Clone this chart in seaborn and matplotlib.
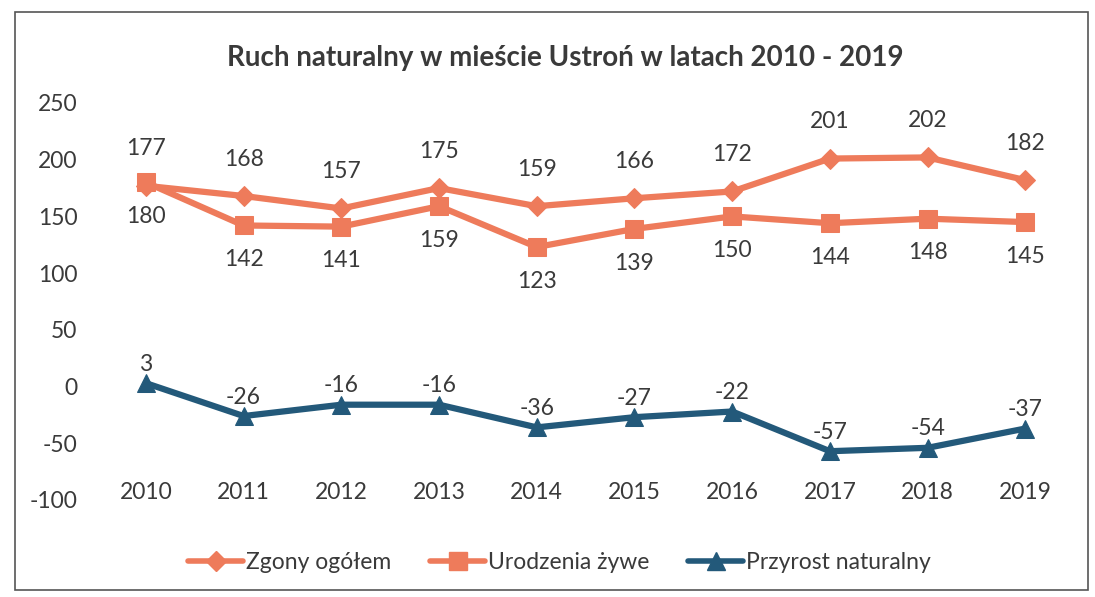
import matplotlib
matplotlib.use("Agg")
import matplotlib.pyplot as plt
import seaborn as sns
import pandas as pd
from matplotlib.patches import Rectangle
from matplotlib.lines import Line2D

years = ["2010", "2011", "2012", "2013", "2014", "2015", "2016", "2017", "2018", "2019"]
zgony = [177, 168, 157, 175, 159, 166, 172, 201, 202, 182]
urodzenia = [180, 142, 141, 159, 123, 139, 150, 144, 148, 145]
przyrost = [3, -26, -16, -16, -36, -27, -22, -57, -54, -37]
series_names = ["Zgony ogółem", "Urodzenia żywe", "Przyrost naturalny"]
yticks = [-100, -50, 0, 50, 100, 150, 200, 250]

sns.set_theme(style="white")
plt.rcParams["font.family"] = ["Lato", "DejaVu Sans"]

ORANGE = "#EE7B5B"
BLUE = "#23597A"
TXT = "#3A3A3A"
FS = 16.5

fig = plt.figure(figsize=(10.95, 5.97), dpi=100)
ax = fig.add_axes([0.0886, 0.1625, 0.8924, 0.665])

idx = list(range(len(years)))
df = pd.DataFrame({"idx": idx, "z": zgony, "u": urodzenia, "p": przyrost})

sns.lineplot(data=df, x="idx", y="z", ax=ax, color=ORANGE, lw=4.5,
             marker="D", markersize=10, markeredgecolor=ORANGE, sort=False)
sns.lineplot(data=df, x="idx", y="u", ax=ax, color=ORANGE, lw=4.5,
             marker="s", markersize=13, markeredgecolor=ORANGE, sort=False)
sns.lineplot(data=df, x="idx", y="p", ax=ax, color=BLUE, lw=4.5,
             marker="^", markersize=13, markeredgecolor=BLUE, sort=False)

for i in idx:
    ax.annotate(str(zgony[i]), (i, zgony[i]), xytext=(0, 19), textcoords="offset points",
                ha="center", va="bottom", fontsize=FS, color=TXT)
    ax.annotate(str(urodzenia[i]), (i, urodzenia[i]), xytext=(0, -17), textcoords="offset points",
                ha="center", va="top", fontsize=FS, color=TXT)
    ax.annotate(str(przyrost[i]), (i, przyrost[i]), xytext=(0, 6), textcoords="offset points",
                ha="center", va="bottom", fontsize=FS, color=TXT)

ax.set_xlim(-0.5, len(years) - 0.5)
ax.set_ylim(-100, 250)
ax.set_yticks(yticks)
ax.set_yticklabels([str(v) for v in yticks], fontsize=FS, color=TXT)
ax.set_xticks(idx)
ax.set_xticklabels(years, fontsize=FS, color=TXT)
ax.tick_params(axis="x", length=0, pad=-13)
ax.tick_params(axis="y", length=0, pad=14)
ax.set_xlabel("")
ax.set_ylabel("")
for s in ax.spines.values():
    s.set_visible(False)
ax.grid(False)

fig.text(0.516, 0.903, "Ruch naturalny w mieście Ustroń w latach 2010 - 2019",
         ha="center", va="center", fontsize=20, fontweight="bold", color=TXT)

handles = [
    Line2D([], [], color=ORANGE, lw=4, marker="D", markersize=10),
    Line2D([], [], color=ORANGE, lw=4, marker="s", markersize=13),
    Line2D([], [], color=BLUE, lw=4, marker="^", markersize=13),
]
fig.legend(handles, series_names, loc="center", bbox_to_anchor=(0.511, 0.058), ncol=3,
           frameon=False, fontsize=FS, handlelength=2.4, handletextpad=0.12,
           columnspacing=1.7, labelcolor=TXT)

fig.patches.append(Rectangle((0.014, 0.012), 0.98, 0.968, transform=fig.transFigure,
                             fill=False, edgecolor="#555555", lw=1.2))

fig.savefig("out.png", dpi=100)
